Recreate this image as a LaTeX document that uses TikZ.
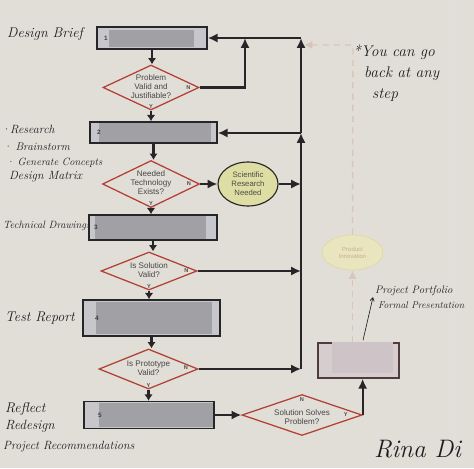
\documentclass[tikz,border=0pt]{standalone}
\usepackage{fontspec}
\setsansfont{Liberation Sans}
\usepackage{xcolor}
\usepackage{tikz}
\usetikzlibrary{shapes.geometric, arrows.meta, calc, positioning}

\definecolor{paper}{RGB}{225,222,215}
\definecolor{boxgray}{RGB}{198,198,203}
\definecolor{blurgray}{RGB}{160,160,165}
\definecolor{boxpink}{RGB}{214,206,206}
\definecolor{blurpink}{RGB}{206,196,200}
\definecolor{edgered}{RGB}{178,64,54}
\definecolor{olive}{RGB}{222,221,163}
\definecolor{ink}{RGB}{38,38,40}
\definecolor{brownink}{RGB}{80,60,60}
\definecolor{pale}{RGB}{216,198,186}
\definecolor{palefill}{RGB}{233,229,190}
\definecolor{paleline}{RGB}{226,216,170}
\definecolor{paletext}{RGB}{198,176,138}
\definecolor{pen}{RGB}{28,28,32}

\begin{document}
\begin{tikzpicture}[x=0.5mm, y=-0.5mm,
	hand/.style={font=\itshape\fontsize{#1}{#1}\selectfont, text=pen, anchor=west, inner sep=0pt}]
		
		\tikzstyle{stepbox}=[rectangle, draw=ink, line width=2pt, fill=boxgray, inner sep=0pt]
		\tikzstyle{decide}=[diamond, draw=edgered, line width=1.8pt, fill=paper, inner sep=0pt, aspect=2]
		\tikzstyle{qtext}=[font=\sffamily\fontsize{11.5}{13}\selectfont, text=black!72, align=center, inner sep=0pt]
		\tikzstyle{yn}=[font=\sffamily\bfseries\fontsize{8}{9}\selectfont, text=black!70, inner sep=1pt]
		\tikzstyle{num}=[font=\sffamily\bfseries\fontsize{9}{10}\selectfont, text=black!75, inner sep=0pt]
		\tikzstyle{idea}=[ellipse, draw=ink, line width=1.6pt, fill=olive, inner sep=0pt, align=center, font=\sffamily\fontsize{11}{13}\selectfont, text=black!70]
		\tikzstyle{ghost}=[ellipse, draw=paleline, line width=1.2pt, fill=palefill, inner sep=0pt, align=center, font=\sffamily\fontsize{8.5}{10}\selectfont, text=paletext]
		\tikzstyle{flow}=[draw=ink, line width=3pt, -{Latex[length=14pt,width=13pt]}]
		\tikzstyle{down}=[draw=ink, line width=3pt, -{Latex[length=9pt,width=12pt]}]
		\tikzstyle{faded}=[draw=pale, line width=2pt, dash pattern=on 9pt off 7pt, -{Latex[length=12pt,width=12pt]}]
		\tikzstyle{penarrow}=[draw=pen, line width=0.9pt, -{Straight Barb[length=5pt,width=6pt]}]
		\tikzstyle{blur}=[fill=blurgray]
		
		\useasboundingbox (0,0) rectangle (474,468);
		\clip (0,0) rectangle (474,468);
		\fill[paper] (0,0) rectangle (474,468);
		\draw[black!12, line width=0.8pt] (454,0) -- (454,468);
		
		% handwritten notes
		\node[hand=20] (brief) at (7,34) {Design Brief};
		\node[hand=17] (res) at (1,129) {·Research};
		\node[hand=16] (brain) at (3,147) {· Brainstorm};
		\node[hand=15] (gen) at (6,163) {· Generate Concepts};
		\node[hand=17] (matrix) at (9,177) {Design Matrix};
		\node[hand=15] (tech) at (3,226) {Technical Drawings};
		\node[hand=20] (test) at (5,318) {Test Report};
		\node[hand=20] (refl) at (5,409) {Reflect};
		\node[hand=19] (redes) at (5,426) {Redesign};
		\node[hand=17] (recom) at (3,447) {Project Recommendations};
		\node[hand=22] (back1) at (353,52) {*You can go};
		\node[hand=22] (back2) at (364,74) {back at any};
		\node[hand=22] (back3) at (372,95) {step};
		\node[hand=15.5] (port) at (375,291) {Project Portfolio};
		\node[hand=14] (pres) at (378,305) {Formal Presentation};
		\node[hand=36] (sign) at (374,449) {Rina Di};
		
		% steps
		\node[stepbox, minimum width=55mm, minimum height=11mm] (b1) at (152,38) {};
		\node[stepbox, minimum width=63.5mm, minimum height=10.5mm] (b2) at (153.5,132.5) {};
		\node[stepbox, minimum width=64mm, minimum height=12.5mm] (b3) at (153,227.5) {};
		\node[stepbox, minimum width=68.5mm, minimum height=18mm] (b4) at (151.5,318) {};
		\node[stepbox, minimum width=65mm, minimum height=13.5mm] (b5) at (149,415) {};
		\node[stepbox, draw=brownink, fill=boxpink, minimum width=40.5mm, minimum height=17.5mm] (b6) at (358.5,360.5) {};
		
		\fill[blur] ($(b1.north west)+(13,4)$) rectangle ($(b1.south east)+(-14,-3)$);
		\fill[blur] ($(b2.north west)+(10,1.5)$) rectangle ($(b2.south east)+(-7,-1.5)$);
		\fill[blur] ($(b3.north west)+(7,1.5)$) rectangle ($(b3.south east)+(-12,-1.5)$);
		\fill[blur] ($(b4.north west)+(14,3)$) rectangle ($(b4.south east)+(-9,-3)$);
		\fill[blur] ($(b5.north west)+(16,2)$) rectangle ($(b5.south east)+(-2,-2)$);
		\fill[blurpink] ($(b6.north west)+(15,0)$) rectangle ($(b6.south east)+(-7,-6)$);
		
		\node[num, right=11pt of b1.west] (n1) {1};
		\node[num, right=11pt of b2.west] (n2) {2};
		\node[num, right=8pt of b3.west] (n3) {3};
		\node[num, right=18pt of b4.west] (n4) {4};
		\node[num, right=21pt of b5.west] (n5) {5};
		
		% decisions
		\node[decide, minimum width=48mm, minimum height=22.5mm,
			label={[qtext, yshift=1pt]center:{Problem\\Valid and\\Justifiable?}}] (d1) at (151,87.5) {};
		\node[decide, minimum width=48.5mm, minimum height=23.5mm,
			label={[qtext, yshift=2pt]center:{Needed\\Technology\\Exists?}}] (d2) at (151,184) {};
		\node[decide, minimum width=48mm, minimum height=19mm,
			label={[qtext, yshift=1pt]center:{Is Solution\\Valid?}}] (d3) at (149,271) {};
		\node[decide, minimum width=49.5mm, minimum height=20mm,
			label={[qtext, yshift=1pt]center:{Is Prototype\\Valid?}}] (d4) at (148.5,369) {};
		\node[decide, minimum width=60mm, minimum height=20.5mm,
			label={[qtext, yshift=-3pt]center:{Solution Solves\\Problem?}}] (d5) at (302,415) {};
		
		\node[yn, left=12pt of d1.east] (d1n) {N};
		\node[yn, above=2pt of d1.south] (d1y) {Y};
		\node[yn, left=12pt of d2.east] (d2n) {N};
		\node[yn, above=2pt of d2.south] (d2y) {Y};
		\node[yn, left=12pt of d3.east] (d3n) {N};
		\node[yn, above=2pt of d3.south] (d3y) {Y};
		\node[yn, left=14pt of d4.east, yshift=2pt] (d4n) {N};
		\node[yn, above=2pt of d4.south] (d4y) {Y};
		\node[yn, below=4pt of d5.north] (d5n) {N};
		\node[yn, left=20pt of d5.east] (d5y) {Y};
		
		\node[idea, minimum width=30mm, minimum height=22mm] (sci) at (248,184) {Scientific\\Research\\Needed};
		\node[ghost, minimum width=30.5mm, minimum height=17.5mm] (pi) at (352.5,252.5) {Product\\Innovation};
		
		\coordinate (jtop) at (301,38);
		\coordinate (jleft) at (245,38);
		\coordinate (jb2) at (301,133);
		\coordinate (jbot) at (301,369);
		\coordinate (jpale) at (353,45);
		\coordinate (jpaleend) at (304,45);
		
		% main column
		\draw[down] (b1.south) -- (b1.south |- d1.north);
		\draw[down] (d1.south) -- (d1.south |- b2.north);
		\draw[down] (b2.south) -- (b2.south |- d2.north);
		\draw[down] (d2.south) -- (d2.south |- b3.north);
		\draw[down] (b3.south) -- (b3.south |- d3.north);
		\draw[down] (d3.south) -- (d3.south |- b4.north);
		\draw[down] (b4.south) -- (b4.south |- d4.north);
		\draw[down] (d4.south) -- (d4.south |- b5.north);
		\draw[flow] (b5.east) -- (d5.west);
		\draw[flow] (d5.east) -- (d5.east |- b6.south);
		
		% going back
		\draw[flow] (d1.east) -| (jleft);
		\draw[flow] (jtop) -- (b1.east);
		\draw[flow] (jb2) -- (jtop);
		\draw[flow] (jb2) -- (jb2 -| b2.east);
		\draw[flow] (jbot) -- (jb2);
		\draw[flow] (d2.east) -- (sci.west);
		\draw[flow] (sci.east) -- (sci.east -| jtop);
		\draw[flow] (d3.east) -- (d3.east -| jtop);
		\draw[flow] (d4.east) -- (jbot);
		
		% faded path
		\draw[faded] (b6.north -| pi.south) -- (pi.south);
		\draw[faded] (pi.north) -- (jpale) -- (jpaleend);
		
		\draw[penarrow] ($(b6.north)+(4.5,-2)$) -- ($(port.south west)+(-2,1)$);
		
\end{tikzpicture}
\end{document}
